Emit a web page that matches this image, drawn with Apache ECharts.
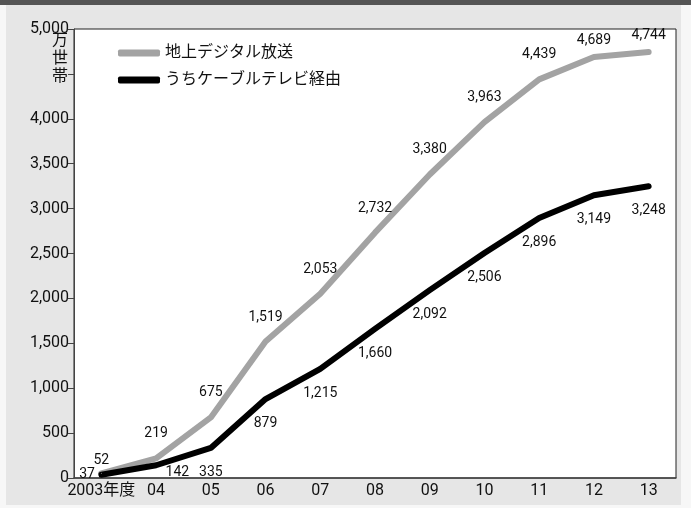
<!DOCTYPE html>
<html>
<head>
<meta charset="utf-8">
<script src="https://cdn.jsdelivr.net/npm/echarts@6/dist/echarts.min.js"></script>
<style>
  body { margin: 0; background: #f7f7f7; }
  #band { position: absolute; left: 0; top: 0; width: 691px; height: 5px; background: #555; }
  #panel { position: absolute; left: 6px; top: 5px; width: 675px; height: 500px; background: #e6e6e6; }
  #chart { position: absolute; left: 0; top: 0; width: 691px; height: 508px; }
</style>
</head>
<body>
<div id="band"></div>
<div id="panel"></div>
<div id="chart"></div>
<script>
// 年度
const years = ['2003年度', '04', '05', '06', '07', '08', '09', '10', '11', '12', '13']
// 地上デジタル放送（万世帯）
const terrestrial = [52, 219, 675, 1519, 2053, 2732, 3380, 3963, 4439, 4689, 4744]
// うちケーブルテレビ経由（万世帯）
const viaCable = [37, 142, 335, 879, 1215, 1660, 2092, 2506, 2896, 3149, 3248]

const FONT = 'Roboto, "Noto Sans CJK JP", sans-serif'
const fmt = v => v.toLocaleString('en-US')

const chart = echarts.init(document.getElementById('chart'))

// 端の点だけラベル位置を調整
const grayData = terrestrial.map((v, i) => {
  if (i === 0) return { value: v, label: { distance: 5 } }
  if (i >= 9) return { value: v, label: { distance: 9 } }
  return v
})
const blackData = viaCable.map((v, i) => {
  if (i === 0) return { value: v, label: { position: 'left', distance: 6 } }
  if (i === 1) return { value: v, label: { position: [10, 1] } }
  return v
})

const labelStyle = {
  show: true, distance: 17,
  fontSize: 14, color: '#111', fontFamily: FONT,
  formatter: p => fmt(p.value)
}

const option = {
  backgroundColor: 'transparent',
  textStyle: { fontFamily: FONT },
  grid: {
    left: 74, right: 15, top: 29, bottom: 30,
    show: true,
    backgroundColor: '#fff',
    borderColor: '#222',
    borderWidth: 1
  },
  legend: {
    orient: 'vertical',
    left: 113,
    top: 40,
    itemWidth: 42,
    itemHeight: 7,
    itemGap: 11,
    icon: 'roundRect',
    textStyle: { fontSize: 16, color: '#111', fontFamily: FONT },
    data: ['地上デジタル放送', 'うちケーブルテレビ経由']
  },
  graphic: [
    {
      type: 'text',
      left: 52,
      top: 32,
      style: { text: '万\n世\n帯', font: '16px ' + FONT, lineHeight: 18, fill: '#111' }
    }
  ],
  xAxis: {
    type: 'category',
    data: years,
    boundaryGap: true,
    axisLine: { lineStyle: { color: '#444', width: 1.5 } },
    axisTick: { inside: true, alignWithLabel: true, interval: 0, length: 7, lineStyle: { color: '#444' } },
    axisLabel: { fontSize: 16, color: '#111', margin: 5, interval: 0, fontFamily: FONT }
  },
  yAxis: {
    type: 'value',
    min: 0,
    max: 5000,
    interval: 500,
    axisLine: { show: true, lineStyle: { color: '#444' } },
    axisTick: { show: true, length: 6, lineStyle: { color: '#444' } },
    splitLine: { show: false },
    axisLabel: {
      fontSize: 16, color: '#111', margin: 5, fontFamily: FONT,
      formatter: v => v === 4500 ? '' : fmt(v)
    }
  },
  series: [
    {
      name: '地上デジタル放送',
      type: 'line',
      data: grayData,
      symbol: 'circle',
      symbolSize: 1,
      color: '#a3a3a3',
      lineStyle: { width: 6, color: '#a3a3a3', cap: 'round', join: 'round' },
      label: Object.assign({}, labelStyle, { position: 'top' }),
      labelLayout: { hideOverlap: false }
    },
    {
      name: 'うちケーブルテレビ経由',
      type: 'line',
      data: blackData,
      symbol: 'circle',
      symbolSize: 1,
      color: '#000',
      lineStyle: { width: 6, color: '#000', cap: 'round', join: 'round' },
      label: Object.assign({}, labelStyle, { position: 'bottom' }),
      labelLayout: { hideOverlap: false }
    }
  ]
}

chart.setOption(option)
</script>
</body>
</html>
